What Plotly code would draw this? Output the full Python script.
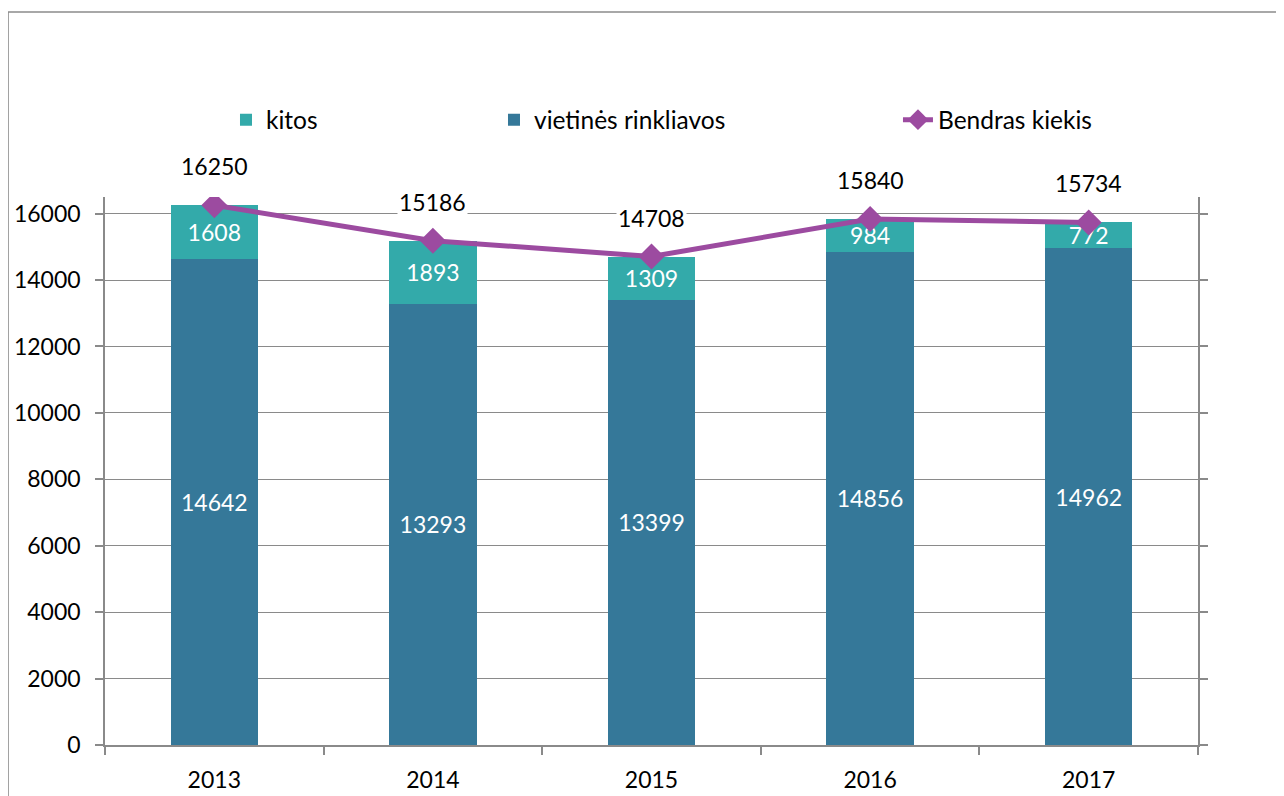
import plotly.graph_objects as go

years = ["2013", "2014", "2015", "2016", "2017"]
vietines = [14642, 13293, 13399, 14856, 14962]
kitos = [1608, 1893, 1309, 984, 772]
bendras = [16250, 15186, 14708, 15840, 15734]

teal = "#33AAAA"
blue = "#357899"
purple = "#9C4BA0"
grid = "#8A8A8A"
font = "Lato, 'Open Sans', sans-serif"

fig = go.Figure()

fig.add_trace(go.Bar(
    x=years, y=vietines, name="vietinės rinkliavos",
    marker=dict(color=blue, line=dict(width=0)),
    text=vietines, textposition="inside", insidetextanchor="middle",
    textfont=dict(color="white", size=23, family=font),
    constraintext="none", legendrank=2, width=0.4,
))
fig.add_trace(go.Bar(
    x=years, y=kitos, name="kitos",
    marker=dict(color=teal, line=dict(width=0)),
    text=kitos, textposition="inside", insidetextanchor="middle",
    textfont=dict(color="white", size=23, family=font),
    constraintext="none", legendrank=1, width=0.4,
))
fig.add_trace(go.Scatter(
    x=years, y=bendras, name="Bendras kiekis", mode="lines+markers",
    line=dict(color=purple, width=5),
    marker=dict(symbol="diamond", size=20, color=purple),
    legend="legend2",
))

# total labels above the line points (category axis -> annotation x is the index)
for i, v in enumerate(bendras):
    fig.add_annotation(x=i, y=v, text=str(v), showarrow=False, yshift=39,
                       bgcolor="white", font=dict(size=23, color="black", family=font))

# outer frame like the source chart
fig.add_shape(type="rect", xref="paper", yref="paper",
              x0=-0.0887, x1=1.0778, y0=-0.2, y1=1.3376,
              line=dict(color="#8C8C8C", width=1.5), fillcolor="rgba(0,0,0,0)")

fig.update_layout(
    width=1284, height=796,
    margin=dict(l=97, r=94, t=189, b=59, autoexpand=False),
    paper_bgcolor="white", plot_bgcolor="white",
    barmode="stack",
    font=dict(family=font, size=23, color="black"),
    legend=dict(orientation="h", x=0.1107, xanchor="left", y=1.141, yanchor="middle",
                traceorder="normal", entrywidth=223, font=dict(size=24.5)),
    legend2=dict(orientation="h", x=0.7255, xanchor="left", y=1.141, yanchor="middle",
                 font=dict(size=24.5)),
    xaxis=dict(type="category", range=[-0.5, 4.5], showline=True, linecolor=grid, linewidth=1.5,
               ticks="outside", tickson="boundaries", ticklen=8, tickcolor=grid, tickwidth=1.5,
               showgrid=False, tickfont=dict(size=23), tickangle=0, automargin=False,
               ticklabelstandoff=14),
    yaxis=dict(range=[0, 16500], dtick=2000, tickformat="d", showline=True, linecolor=grid,
               linewidth=1.5, mirror="ticks", ticks="outside", ticklen=8, tickcolor=grid,
               tickwidth=1.5, showgrid=True, gridcolor=grid, gridwidth=1.3, zeroline=False,
               ticklabelstandoff=10, tickfont=dict(size=23), automargin=False),
)

fig.write_html("out.html")
